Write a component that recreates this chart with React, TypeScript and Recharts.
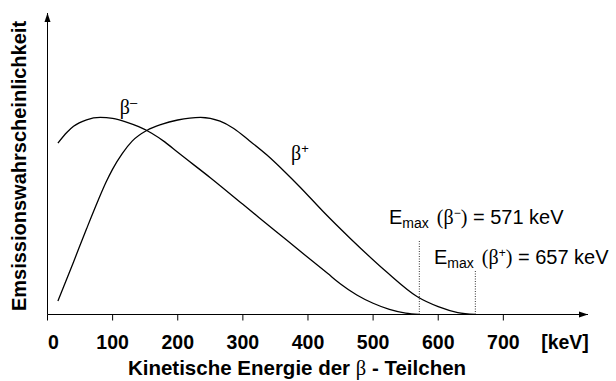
import { Customized, Line, LineChart, ReferenceLine, XAxis, YAxis } from "recharts";

const CHART_W = 616;
const CHART_H = 381;
// plot area in px (axes cross at left/bottom)
const PLOT = { left: 47.5, right: 588, top: 13, bottom: 314.5 };
const X_MAX = 830;
const Y_MAX = 153;

const SANS = "'Liberation Sans', Arial, Helvetica, sans-serif";
const SERIF = "'Liberation Serif', 'Times New Roman', serif";

const energyTicks = [0, 100, 200, 300, 400, 500, 600, 700];

// β− spectrum (relative probability, peak = 100)
const betaMinusKeV = [16, 30, 40, 60, 81, 100, 120, 140, 160, 180, 200, 250, 300, 350, 400, 430, 450, 475, 500, 525, 550, 571];
const betaMinusProb = [87, 92.5, 95.5, 98.8, 100, 99.5, 97.8, 95.3, 92, 87.6, 82.3, 69.4, 55.9, 42.4, 28.9, 20.9, 15.5, 9.9, 5.7, 2.6, 0.7, 0];

// β+ spectrum
const betaPlusKeV = [16, 40, 60, 78, 90, 100, 115, 130, 153, 175, 200, 235, 265, 286, 310, 337, 365, 388, 424, 465, 520, 568, 600, 630, 657];
const betaPlusProb = [6.8, 26.7, 43.5, 58.1, 67.2, 73.8, 81.8, 88, 93.5, 96.5, 98.7, 100, 98.1, 94.4, 88.2, 80.9, 72.2, 64.6, 52, 38.6, 21.8, 9, 4, 1, 0];

const emaxMinus = 571;
const emaxPlus = 657;
const emaxMinusMarkerTop = 38;
const emaxPlusMarkerTop = 22.2;

const minusData = betaMinusKeV.map((kev, i) => ({ kev, minus: betaMinusProb[i] }));
const plusData = betaPlusKeV.map((kev, i) => ({ kev, plus: betaPlusProb[i] }));

const px = (kev: number) => PLOT.left + (kev / X_MAX) * (PLOT.right - PLOT.left);
const py = (v: number) => PLOT.bottom - (v / Y_MAX) * (PLOT.bottom - PLOT.top);

function EnergyTick(props: any) {
  const { x, payload } = props;
  const axisY = PLOT.bottom;
  const shift = payload.value === 0 ? 6 : 0;
  return (
    <g>
      <line x1={x} x2={x} y1={axisY} y2={axisY + 6} stroke="#000" strokeWidth={1} />
      <text
        x={x + shift}
        y={axisY + 34}
        textAnchor="middle"
        fontFamily={SANS}
        fontWeight="bold"
        fontSize={19.5}
        fill="#000"
      >
        {payload.value}
      </text>
    </g>
  );
}

function EmaxLabel({ x, y, sign, value }: { x: number; y: number; sign: string; value: number }) {
  return (
    <text x={x} y={y} fontFamily={SANS} fontSize={20} fill="#000">
      <tspan>E</tspan>
      <tspan fontSize={14} dy={4}>max</tspan>
      <tspan dy={-4} dx={8} fontFamily={SERIF}>(</tspan>
      <tspan fontFamily={SERIF}>β</tspan>
      <tspan fontSize={12} dy={-7}>{sign}</tspan>
      <tspan dy={7} fontFamily={SERIF}>)</tspan>
      <tspan> = {value} keV</tspan>
    </text>
  );
}

function Annotations() {
  return (
    <g>
      {/* axis arrow heads */}
      <polygon
        points={`${PLOT.right},${PLOT.bottom} ${PLOT.right - 9},${PLOT.bottom - 3} ${PLOT.right - 9},${PLOT.bottom + 3}`}
        fill="#000"
      />
      <polygon
        points={`${PLOT.left},${PLOT.top} ${PLOT.left - 3},${PLOT.top + 9} ${PLOT.left + 3},${PLOT.top + 9}`}
        fill="#000"
      />
      <text
        x={565}
        y={PLOT.bottom + 34}
        textAnchor="middle"
        fontFamily={SANS}
        fontWeight="bold"
        fontSize={19.5}
      >
        [keV]
      </text>

      {/* axis titles */}
      <text x={297} y={375} textAnchor="middle" fontFamily={SANS} fontWeight="bold" fontSize={20.5}>
        Kinetische Energie der <tspan fontFamily={SERIF} fontWeight="normal">β</tspan> - Teilchen
      </text>
      <text
        x={26}
        y={166}
        transform="rotate(-90 26 166)"
        textAnchor="middle"
        fontFamily={SANS}
        fontWeight="bold"
        fontSize={20}
      >
        Emsissionswahrscheinlichkeit
      </text>

      {/* curve labels */}
      <text x={px(111)} y={py(100) - 3} fontFamily={SERIF} fontSize={20}>
        β<tspan fontFamily={SANS} fontSize={13} dy={-7}>–</tspan>
      </text>
      <text x={px(374)} y={py(78.5)} fontFamily={SERIF} fontSize={20}>
        β<tspan fontFamily={SANS} fontSize={13} dy={-7}>+</tspan>
      </text>

      <EmaxLabel x={389} y={224} sign="−" value={emaxMinus} />
      <EmaxLabel x={434} y={264} sign="+" value={emaxPlus} />
    </g>
  );
}

export default function App() {
  return (
    <div style={{ width: CHART_W, height: CHART_H, background: "#fff" }}>
      <style>{"body{margin:0}"}</style>
      <LineChart
        width={CHART_W}
        height={CHART_H}
        margin={{ top: PLOT.top, right: CHART_W - PLOT.right, left: 0, bottom: 0 }}
      >
        <XAxis
          type="number"
          dataKey="kev"
          domain={[0, X_MAX]}
          ticks={energyTicks}
          interval={0}
          height={CHART_H - PLOT.bottom}
          tickLine={false}
          tick={<EnergyTick />}
          axisLine={{ stroke: "#000", strokeWidth: 1 }}
          allowDataOverflow
        />
        <YAxis
          type="number"
          domain={[0, Y_MAX]}
          width={PLOT.left}
          tick={false}
          tickLine={false}
          axisLine={{ stroke: "#000", strokeWidth: 1 }}
          allowDataOverflow
        />
        <ReferenceLine
          segment={[
            { x: emaxMinus, y: 0 },
            { x: emaxMinus, y: emaxMinusMarkerTop },
          ]}
          stroke="#333"
          strokeDasharray="1 1.5"
        />
        <ReferenceLine
          segment={[
            { x: emaxPlus, y: 0 },
            { x: emaxPlus, y: emaxPlusMarkerTop },
          ]}
          stroke="#333"
          strokeDasharray="1 1.5"
        />
        <Line
          data={minusData}
          dataKey="minus"
          type="monotone"
          stroke="#000"
          strokeWidth={1.3}
          dot={false}
          isAnimationActive={false}
        />
        <Line
          data={plusData}
          dataKey="plus"
          type="monotone"
          stroke="#000"
          strokeWidth={1.3}
          dot={false}
          isAnimationActive={false}
        />
        <Customized component={Annotations} />
      </LineChart>
    </div>
  );
}
